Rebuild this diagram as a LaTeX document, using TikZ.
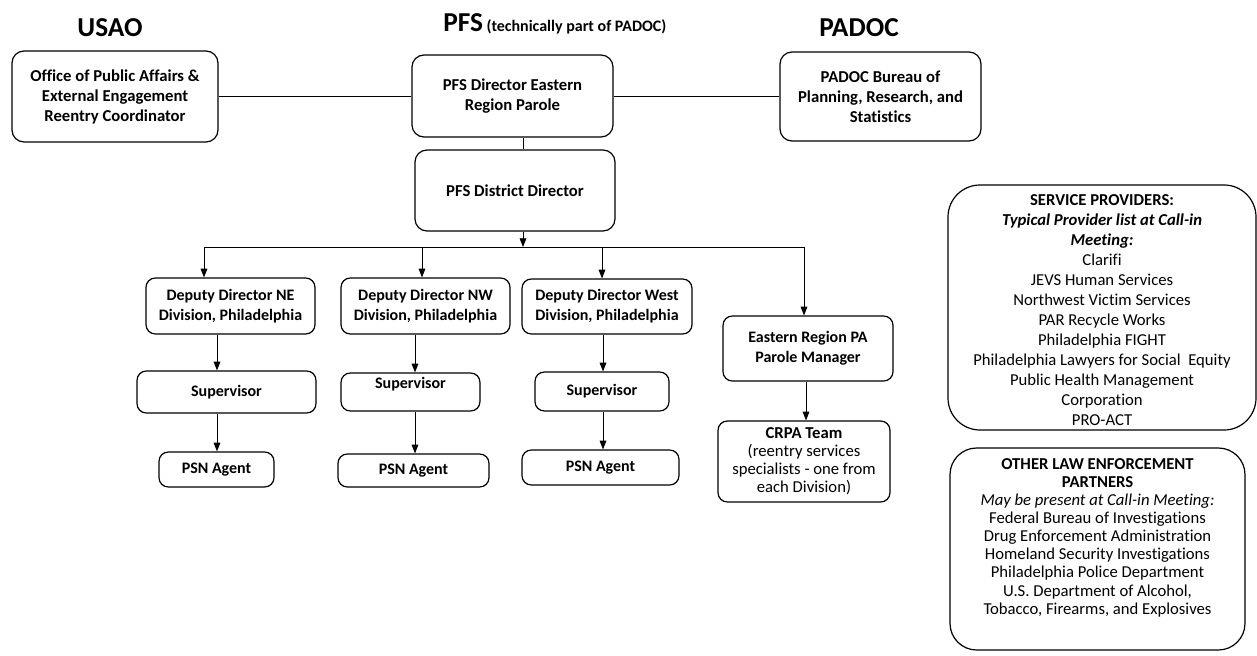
\documentclass[tikz,border=0pt]{standalone}
\usepackage{fontspec}
\setmainfont{Carlito}[Ligatures=NoCommon]
\usetikzlibrary{arrows.meta}
\begin{document}
\begin{tikzpicture}[x=0.75pt,y=-0.75pt,
  wh/.style 2 args={minimum width=#1*0.75pt,minimum height=#2*0.75pt},
  box/.style={draw,line width=0.9pt,rounded corners=9pt,align=center,inner sep=0pt,
    font=\fontsize{12.5}{15}\selectfont\bfseries},
  sbox/.style={box,rounded corners=7pt,font=\fontsize{12}{15}\selectfont\bfseries},
  title/.style={font=\fontsize{20.5}{24}\selectfont\bfseries,inner sep=0pt,anchor=base},
  conn/.style={line width=0.6pt},
  arr/.style={conn,-{Triangle[length=6.5pt,width=5pt]}},
  listtxt/.style={align=center,inner sep=0pt}]
\useasboundingbox (0,0) rectangle (1257,656);

% titles
\node[title] (usaoT) at (110,37) {USAO};
\node[title] (padocT) at (859,37) {PADOC};
\node[inner sep=0pt,anchor=base west] (pfsT) at (443,32)
  {{\fontsize{20.5}{24}\selectfont\bfseries PFS}{\fontsize{12}{14}\selectfont\bfseries\ (technically part of PADOC)}};

% top row
\node[box,wh={206}{91}] (office) at (115,96.5) {Office of Public Affairs \&\\External Engagement\\Reentry Coordinator};
\node[box,wh={201}{82}] (pfsdir) at (512.5,96) {PFS Director Eastern\\Region Parole};
\node[box,wh={201}{89}] (padoc) at (880.5,96.5) {PADOC Bureau of\\Planning, Research, and\\Statistics};
\node[box,wh={200}{81}] (district) at (515,190.5) {PFS District Director};

% deputies
\node[sbox,wh={169}{56}] (ne) at (230.5,306) {Deputy Director NE\\Division, Philadelphia};
\node[sbox,wh={169}{56}] (nw) at (425.5,306) {Deputy Director NW\\Division, Philadelphia};
\node[sbox,wh={170}{55}] (west) at (607,306.5) {Deputy Director West\\Division, Philadelphia};
\node[sbox,wh={170}{65}] (east) at (808,348.5) {Eastern Region PA\\Parole Manager};

% supervisors
\node[sbox,wh={179}{42}] (supne) at (226.5,392) {Supervisor};
\node[sbox,wh={139}{38}] (supnw) at (410.5,392) {\raisebox{13pt}{Supervisor}};
\node[sbox,wh={134}{39}] (supw) at (602,391.5) {Supervisor};

% agents
\node[sbox,wh={115}{35}] (psnne) at (216.5,469.5) {PSN Agent};
\node[sbox,wh={151}{33}] (psnnw) at (413.5,470.5) {PSN Agent};
\node[sbox,wh={157}{35}] (psnw) at (600.5,467.5) {PSN Agent};
\node[sbox,wh={172}{81},font=\fontsize{12.5}{13.5}\selectfont] (crpa) at (804,461.5)
  {\bfseries CRPA Team\\(reentry services\\specialists - one from\\each Division)};

% right side lists
\node[draw,line width=0.9pt,rounded corners=24pt,wh={308}{245}] (service) at (1102,307.5) {};
\node[listtxt,font=\fontsize{12.5}{15}\selectfont] (servicetxt) at (1102,310)
  {{\bfseries SERVICE PROVIDERS:}\\
   {\bfseries\itshape Typical Provider list at Call-in}\\
   {\bfseries\itshape Meeting:}\\
   Clarifi\\JEVS Human Services\\Northwest Victim Services\\PAR Recycle Works\\
   Philadelphia FIGHT\\Philadelphia Lawyers for Social~ Equity\\
   Public Health Management\\Corporation\\PRO-ACT};
\node[draw,line width=0.9pt,rounded corners=20pt,wh={295}{202}] (other) at (1097.5,549) {};
\node[listtxt,font=\fontsize{12.5}{13.6}\selectfont] (othertxt) at (1097.5,537.5)
  {{\bfseries OTHER LAW ENFORCEMENT}\\{\bfseries PARTNERS}\\
   {\itshape May be present at Call-in Meeting:}\\
   Federal Bureau of Investigations\\Drug Enforcement Administration\\
   Homeland Security Investigations\\Philadelphia Police Department\\
   U.S. Department of Alcohol,\\Tobacco, Firearms, and Explosives};

% helper coordinates
\coordinate (hub) at (523,247);
\coordinate (busL) at (204,247);
\coordinate (busR) at (804,247);
\coordinate (xnw) at (422,247);
\coordinate (xw) at (602,247);
\coordinate (xa) at (217,0);
\coordinate (xb) at (415,0);
\coordinate (xc) at (603,0);
\coordinate (xd) at (806,0);

% connectors
\draw[conn] (office.east) -- (office.east -| pfsdir.west);
\draw[conn] (pfsdir.east) -- (pfsdir.east -| padoc.west);
\draw[conn] (hub |- pfsdir.south) -- (hub |- district.north);
\draw[arr] (hub |- district.south) -- (hub);
\draw[conn] (busL) -- (busR);
\draw[arr] (busL) -- (busL |- ne.north);
\draw[arr] (xnw) -- (xnw |- nw.north);
\draw[arr] (xw) -- (xw |- west.north);
\draw[arr] (busR) -- (busR |- east.north);
\draw[arr] (ne.south -| xa) -- (supne.north -| xa);
\draw[arr] (nw.south -| xb) -- (supnw.north -| xb);
\draw[arr] (west.south -| xc) -- (supw.north -| xc);
\draw[arr] (supne.south -| xa) -- (psnne.north -| xa);
\draw[arr] (supnw.south -| xb) -- (psnnw.north -| xb);
\draw[arr] (supw.south -| xc) -- (psnw.north -| xc);
\draw[arr] (east.south -| xd) -- (crpa.north -| xd);
\end{tikzpicture}
\end{document}
